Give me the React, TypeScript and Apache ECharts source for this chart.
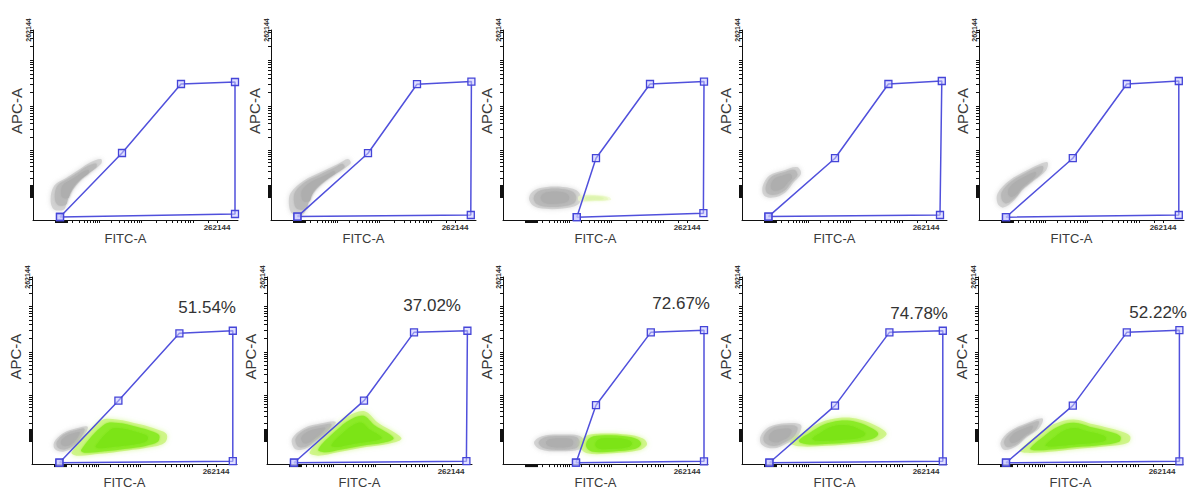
import React, { useEffect, useRef } from "react";
import * as echarts from "echarts";

// ---------- layout (pixels) ----------
const panelLeft = [33, 271, 503, 742, 979, 32, 267, 503, 742, 978];
const panelTop = [30, 30, 30, 30, 30, 277, 277, 277, 277, 277];
const GRID_W = 205;
const GRID_H = 190;

// ---------- axes (display units) ----------
const X_MAX = 102.5;
const Y_MAX = 95;
const xDecades = [14, 33, 54, 80];
const yDecades = [14.5, 35, 57, 80];
const X_END = 92; // position of 262144 on FITC-A
const Y_END = 95; // position of 262144 on APC-A
const axisEndLabel = "262144";
const xName = "FITC-A";
const yName = "APC-A";

// ---------- gates (FITC-A, APC-A) per panel ----------
const gate1 = [[13.5, 1.5], [44.5, 33.5], [74, 68], [101, 69], [101, 3]];
const gate2 = [[13.2, 1.7], [48.5, 33.4], [73, 67.9], [100.2, 69.2], [99.9, 2.5]];
const gate3 = [[36.9, 1.4], [46.5, 30.9], [73.5, 68], [100.5, 69.2], [100.2, 3.4]];
const gate4 = [[13.2, 1.7], [46.5, 30.9], [73.2, 68], [99.9, 69.5], [99, 2.5]];
const gate5 = [[13.5, 1.4], [46.9, 30.9], [73.9, 68], [99.9, 69.5], [99.9, 2.5]];
const gate6 = [[13.7, 0.7], [43.2, 32.2], [73.7, 66.4], [100.4, 67.7], [100.4, 1.5]];
const gate7 = [[13.5, 0.7], [48.5, 32.2], [73.5, 66.9], [100.2, 67.7], [99.7, 1.5]];
const gate8 = [[36.5, 0.7], [46.5, 29.9], [73.9, 66.9], [100.5, 68], [100.5, 1.4]];
const gate9 = [[13.7, 0.7], [46.5, 29.7], [73.7, 66.9], [100.4, 67.7], [100.4, 1.4]];
const gate10 = [[14, 0.7], [47.4, 29.7], [74.4, 66.9], [100.7, 68], [100.7, 1.4]];
const gates = [gate1, gate2, gate3, gate4, gate5, gate6, gate7, gate8, gate9, gate10];

// ---------- population outlines (gray = negative, green = positive) ----------
const gray1 = [[8.8, 10], [10.5, 17], [16.5, 21], [23.5, 25.5], [28.5, 28.8], [34, 30.5], [34, 28], [25.5, 21.5], [19.8, 15], [17, 9.5], [15.5, 5.3], [10.5, 5.3]];
const gray2 = [[9.8, 13.5], [16.5, 19.8], [25, 24], [33.5, 28], [38.5, 30.5], [39.8, 28.3], [32, 23], [23.8, 16.5], [18.8, 9.8], [16.3, 3], [10.8, 3], [9, 7.5]];
const gray3 = [[13, 11], [15.5, 14.8], [22, 16.5], [30, 16.5], [36.5, 15], [39, 11.5], [37.5, 7.8], [30, 5.8], [21, 5.6], [15, 7.3]];
const gray4 = [[10.3, 16.7], [13.7, 22.2], [20.7, 24.8], [27.5, 26.5], [29.5, 23.3], [26, 19], [21.7, 13.8], [15.7, 11.2], [11, 12.3]];
const gray5 = [[9.3, 13.3], [15.2, 19.7], [23.8, 24.7], [30.5, 28], [34.3, 28.8], [33.5, 24.8], [27.5, 19.7], [21.5, 14.7], [17.5, 9.7], [12.2, 6.2], [9.3, 8.3]];
const gray6 = [[11, 11], [15.5, 15.7], [22.3, 18.2], [27.8, 19], [26, 14.3], [21.7, 9], [15.7, 6.3], [11.5, 7.5]];
const gray7 = [[12.5, 12.7], [18.5, 18.2], [27.2, 20.7], [34.3, 21.5], [31, 16.5], [25.7, 12.3], [19.7, 8], [14.2, 7.5]];
const gray8 = [[15.5, 11], [19.5, 14.2], [30, 15], [38.5, 14.3], [40.5, 11], [38.5, 7.6], [28, 6.5], [18.5, 7.6]];
const gray9 = [[9.3, 14.3], [13.7, 19], [22.3, 20.8], [29.5, 19.8], [27.7, 14], [22.3, 10.5], [15.7, 8], [9.8, 10]];
const gray10 = [[11.3, 11], [15.7, 16.5], [24.3, 20.7], [32.3, 23.2], [30.6, 18.2], [24.5, 13.8], [18.7, 8.8], [13, 7.3]];
const grays = [gray1, gray2, gray3, gray4, gray5, gray6, gray7, gray8, gray9, gray10];

const green3 = [[38, 12], [45, 12.5], [53, 11.5], [54, 10], [46, 9.5], [38, 9.5]];
const green6 = [[19.8, 6], [34, 21.8], [42.3, 22.7], [54, 20.2], [62.3, 17.7], [67.3, 15.2], [66.5, 11], [59, 8.5], [47.3, 6.8], [34, 5.2], [22.3, 4.3]];
const green7 = [[21.3, 6], [32.2, 17.7], [40.5, 24.3], [48.8, 26.8], [55.5, 21], [63.8, 16], [67.2, 12.7], [60.5, 10.2], [48.8, 8.5], [35.5, 6], [25.5, 4.3]];
const green8 = [[38.5, 9], [41, 14], [50, 15.5], [62, 15], [70, 13], [72, 10], [68, 7], [55, 5.5], [42, 5.5]];
const green9 = [[24, 11], [30.7, 16], [39, 21], [49, 23.5], [59, 22.7], [69, 18.5], [72.3, 15.2], [67.3, 11.8], [55.7, 10.2], [42.3, 9.3], [29, 9]];
const green10 = [[21, 6.8], [29.3, 14.3], [37.7, 20.2], [47.7, 22.7], [57.7, 20.2], [71, 16.8], [76, 14.3], [75.2, 11], [64.3, 9], [49.3, 7.7], [36, 6.3], [24.3, 5.7]];
const greens: (number[][] | null)[] = [null, null, green3, null, null, green6, green7, green8, green9, green10];
const faintGreen = [false, false, true, false, false, false, false, false, false, false];

// ---------- gate percentages ----------
const percents: (string | null)[] = [null, null, null, null, null, "51.54%", "37.02%", "72.67%", "74.78%", "52.22%"];
const pctDx = [0, 0, 0, 0, 0, 204, 194, 207, 206, 209];
const pctDy = [0, 0, 0, 0, 0, 30, 28, 26, 36, 35];

const FONT = '"Liberation Sans", Arial, Helvetica, sans-serif';

const GRAY_COLORS = ["rgba(206,206,206,0.85)", "rgba(184,184,184,0.95)", "rgba(174,174,174,1)"];
const GREEN_COLORS = ["rgba(200,244,120,0.8)", "rgba(138,234,36,0.96)", "rgba(124,228,22,1)"];
const FAINT_GREEN_COLORS = ["rgba(238,250,205,0.7)", "rgba(228,247,185,0.7)", "rgba(220,244,172,0.7)"];

function axisTicks(decades: number[], end: number): number[] {
  const fr = [2, 3, 4, 5, 6, 7, 8, 9].map((k) => Math.log10(k));
  const t: number[] = [];
  const z = decades[0];
  for (let v = z - 3; v <= z + 3.001; v += 0.5) t.push(+v.toFixed(2));
  for (let i = 0; i < decades.length - 1; i++) {
    const a = decades[i];
    const b = decades[i + 1];
    fr.forEach((f) => t.push(+(a + (b - a) * f).toFixed(2)));
    t.push(b);
  }
  const last = decades[decades.length - 1];
  const L = last - decades[decades.length - 2];
  fr.forEach((f) => {
    const v = last + L * f;
    if (v < end - 1) t.push(+v.toFixed(2));
  });
  t.push(end);
  return t;
}

function cloudSeries(gi: number, pts: number[][], colors: string[], blur: number) {
  return {
    type: "custom",
    xAxisIndex: gi,
    yAxisIndex: gi,
    silent: true,
    clip: true,
    z: 1,
    data: pts,
    encode: { x: 0, y: 1 },
    renderItem: (params: any, api: any) => {
      if (params.dataIndex !== 0) return null;
      const px = pts.map((p) => api.coord(p));
      let cx = 0;
      let cy = 0;
      px.forEach((p: number[]) => {
        cx += p[0];
        cy += p[1];
      });
      cx /= px.length;
      cy /= px.length;
      const scales = [1, 0.82, 0.55];
      return {
        type: "group",
        children: scales.map((s, k) => ({
          type: "polygon",
          shape: {
            points: px.map((p: number[]) => [cx + (p[0] - cx) * s, cy + (p[1] - cy) * s]),
            smooth: 0.35,
          },
          style: {
            fill: colors[k],
            shadowBlur: k === 0 ? blur : 2,
            shadowColor: colors[k],
          },
        })),
      };
    },
  };
}

function buildOption() {
  const xTicks = axisTicks(xDecades, X_END);
  const yTicks = axisTicks(yDecades, Y_END);
  const grid: any[] = [];
  const xAxis: any[] = [];
  const yAxis: any[] = [];
  const series: any[] = [];
  const graphic: any[] = [];

  panelLeft.forEach((left, i) => {
    grid.push({ left, top: panelTop[i], width: GRID_W, height: GRID_H });
    xAxis.push({
      gridIndex: i,
      type: "value",
      min: 0,
      max: X_MAX,
      splitLine: { show: false },
      axisLine: { show: true, onZero: false, lineStyle: { color: "#111", width: 1 } },
      axisTick: { show: true, customValues: xTicks, length: 3, lineStyle: { color: "#111", width: 1 } },
      axisLabel: {
        customValues: [X_END],
        formatter: () => axisEndLabel,
        fontSize: 8,
        fontWeight: "bold",
        color: "#333",
        margin: 3,
        fontFamily: FONT,
      },
      name: xName,
      nameLocation: "middle",
      nameGap: 4,
      nameTextStyle: {
        fontSize: 13,
        color: "#3a3a3a",
        fontFamily: FONT,
        verticalAlign: "top",
        padding: [0, 20, 0, 0],
      },
    });
    yAxis.push({
      gridIndex: i,
      type: "value",
      min: 0,
      max: Y_MAX,
      splitLine: { show: false },
      axisLine: { show: true, onZero: false, lineStyle: { color: "#111", width: 1 } },
      axisTick: { show: true, customValues: yTicks, length: 3, lineStyle: { color: "#111", width: 1 } },
      axisLabel: {
        customValues: [Y_END],
        formatter: () => axisEndLabel,
        fontSize: 7,
        fontWeight: "bold",
        color: "#333",
        margin: 1,
        rotate: 90,
        align: "center",
        verticalAlign: "bottom",
        fontFamily: FONT,
      },
      name: yName,
      nameLocation: "middle",
      nameGap: 5,
      nameRotate: 90,
      nameTextStyle: {
        fontSize: 15,
        color: "#3a3a3a",
        fontFamily: FONT,
        padding: [0, 0, 0, 28],
      },
    });

    series.push(cloudSeries(i, grays[i], GRAY_COLORS, 5));
    const g = greens[i];
    if (g) {
      series.push(cloudSeries(i, g, faintGreen[i] ? FAINT_GREEN_COLORS : GREEN_COLORS, 5));
    }

    const gate = gates[i];
    series.push({
      type: "line",
      xAxisIndex: i,
      yAxisIndex: i,
      data: [...gate, gate[0]],
      clip: false,
      silent: true,
      z: 5,
      symbol: "rect",
      symbolSize: 7,
      showSymbol: true,
      lineStyle: { color: "#5050dc", width: 1.5 },
      itemStyle: { color: "rgba(200,200,255,0.55)", borderColor: "#4545d8", borderWidth: 1.3 },
    });

    const pct = percents[i];
    if (pct) {
      graphic.push({
        type: "text",
        x: left + pctDx[i],
        y: panelTop[i] + pctDy[i],
        silent: true,
        style: {
          text: pct,
          font: `17px ${FONT}`,
          fill: "#333",
          textAlign: "right",
          textVerticalAlign: "middle",
        },
      });
    }
  });

  return {
    animation: false,
    backgroundColor: "#ffffff",
    textStyle: { fontFamily: FONT },
    grid,
    xAxis,
    yAxis,
    series,
    graphic,
  };
}

export default function App() {
  const ref = useRef<HTMLDivElement>(null);
  useEffect(() => {
    if (!ref.current) return;
    const chart = echarts.init(ref.current, undefined, { renderer: "svg" });
    chart.setOption(buildOption() as any);
    return () => chart.dispose();
  }, []);
  return (
    <div
      ref={ref}
      style={{ position: "absolute", left: 0, top: 0, width: 1189, height: 490, background: "#fff" }}
    />
  );
}
